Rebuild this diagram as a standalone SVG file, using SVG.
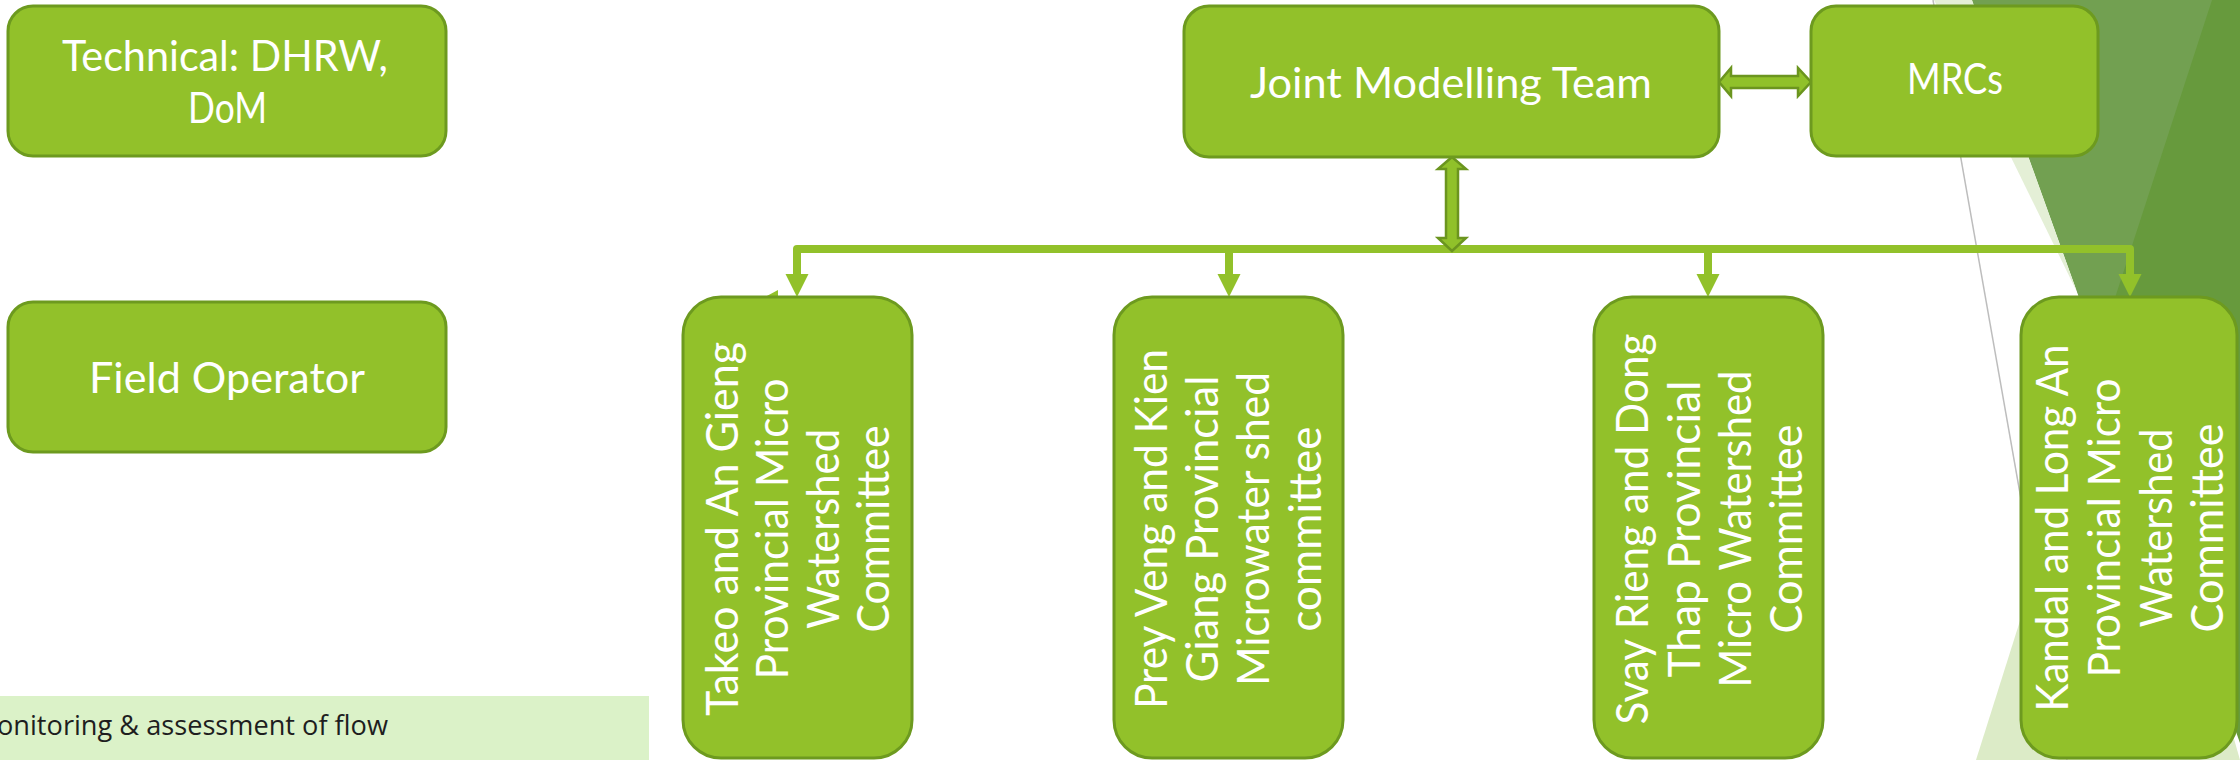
<svg xmlns="http://www.w3.org/2000/svg" width="2240" height="760" viewBox="0 0 2240 760">
  <defs>
    <style>
      .box { fill: #92c12a; stroke: #6d9a1f; stroke-width: 3; }
      .lbl { font-family: Lato, "Liberation Sans", sans-serif; fill: #ffffff; font-size: 42px; }
      .vl { font-size: 45px; text-anchor: middle; }
      .bus { fill: none; stroke: #92c12a; stroke-width: 8; stroke-linejoin: round; }
      .ah { fill: #92c12a; }
      .dbl { fill: #90c12a; stroke: #6b951f; stroke-width: 2.5; }
    </style>
    <!-- arrowhead pointing down, tip at (0,23) -->
    <path id="head" d="M-11.5,0 H11.5 L0,23 Z"/>
  </defs>

  <rect width="2240" height="760" fill="#ffffff"/>

  <!-- faceted backdrop on the right -->
  <g id="backdrop">
    <polygon points="1972,0 2240,0 2240,743" fill="#679a3d"/>
    <polygon points="1972,0 2212,0 2098,350" fill="#72a051"/>
    <polygon points="1934,0 1972,0 2077,292" fill="#e4efd6"/>
    <polygon points="1976,760 2115,320 2240,760" fill="#dcebc7"/>
    <line x1="1933" y1="0" x2="2067" y2="760" stroke="#bdbdbd" stroke-width="1.5"/>
  </g>

  <!-- caption strip -->
  <g id="note">
    <rect x="0" y="696" width="649" height="64" fill="#dbf2c8"/>
    <text x="-3" y="735" font-family="'Open Sans', 'Liberation Sans', sans-serif" font-size="27" fill="#1e1e1e" textLength="391" lengthAdjust="spacingAndGlyphs">onitoring &amp; assessment of flow</text>
  </g>

  <!-- connectors -->
  <g id="connectors">
    <path class="bus" d="M797,276 V249 H2130 V276"/>
    <path class="bus" d="M1229,249 V276 M1708,249 V276"/>
    <use href="#head" class="ah" transform="translate(797,274)"/>
    <use href="#head" class="ah" transform="translate(1229,274)"/>
    <use href="#head" class="ah" transform="translate(1708,274)"/>
    <use href="#head" class="ah" transform="translate(2130,274)"/>
    <polygon class="ah" points="765,297 778,290 778,297"/>
    <path class="dbl" d="M1719,82 L1731,68 V76 H1798 V68 L1811,82 L1798,96 V88 H1731 V96 Z"/>
    <path class="dbl" d="M1452,157 L1466,169 H1458 V238 H1466 L1452,251 L1438,238 H1446 V169 H1438 Z"/>
  </g>

  <g id="technical">
    <rect class="box" x="8" y="6" width="438" height="150" rx="25"/>
    <text class="lbl" x="62" y="71" textLength="326" lengthAdjust="spacingAndGlyphs">Technical: DHRW,</text>
    <text class="lbl" x="188" y="123" textLength="79" lengthAdjust="spacingAndGlyphs">DoM</text>
  </g>

  <g id="field-operator">
    <rect class="box" x="8" y="302" width="438" height="150" rx="25"/>
    <text class="lbl" x="89" y="393" textLength="276" lengthAdjust="spacingAndGlyphs">Field Operator</text>
  </g>

  <g id="joint-modelling-team">
    <rect class="box" x="1184" y="6" width="535" height="151" rx="25"/>
    <text class="lbl" x="1250" y="98" textLength="402" lengthAdjust="spacingAndGlyphs">Joint Modelling Team</text>
  </g>

  <g id="mrcs">
    <rect class="box" x="1811" y="6" width="287" height="150" rx="25"/>
    <text class="lbl" x="1907" y="94" textLength="96" lengthAdjust="spacingAndGlyphs">MRCs</text>
  </g>

  <g id="takeo-an-gieng">
    <rect class="box" x="683" y="297" width="229" height="461" rx="38"/>
    <text class="lbl vl" transform="translate(738,529) rotate(-90)" textLength="374" lengthAdjust="spacingAndGlyphs">Takeo and An Gieng</text>
    <text class="lbl vl" transform="translate(788,529) rotate(-90)" textLength="301" lengthAdjust="spacingAndGlyphs">Provincial Micro</text>
    <text class="lbl vl" transform="translate(839,529) rotate(-90)" textLength="200" lengthAdjust="spacingAndGlyphs">Watershed</text>
    <text class="lbl vl" transform="translate(889,529) rotate(-90)" textLength="207" lengthAdjust="spacingAndGlyphs">Committee</text>
  </g>

  <g id="prey-veng-kien-giang">
    <rect class="box" x="1114" y="297" width="229" height="461" rx="38"/>
    <text class="lbl vl" transform="translate(1167,529) rotate(-90)" textLength="360" lengthAdjust="spacingAndGlyphs">Prey Veng and Kien</text>
    <text class="lbl vl" transform="translate(1218,529) rotate(-90)" textLength="307" lengthAdjust="spacingAndGlyphs">Giang Provincial</text>
    <text class="lbl vl" transform="translate(1269,529) rotate(-90)" textLength="314" lengthAdjust="spacingAndGlyphs">Microwater shed</text>
    <text class="lbl vl" transform="translate(1321,529) rotate(-90)" textLength="205" lengthAdjust="spacingAndGlyphs">committee</text>
  </g>

  <g id="svay-rieng-dong-thap">
    <rect class="box" x="1594" y="297" width="229" height="461" rx="38"/>
    <text class="lbl vl" transform="translate(1648,529) rotate(-90)" textLength="391" lengthAdjust="spacingAndGlyphs">Svay Rieng and Dong</text>
    <text class="lbl vl" transform="translate(1700,529) rotate(-90)" textLength="297" lengthAdjust="spacingAndGlyphs">Thap Provincial</text>
    <text class="lbl vl" transform="translate(1751,529) rotate(-90)" textLength="317" lengthAdjust="spacingAndGlyphs">Micro Watershed</text>
    <text class="lbl vl" transform="translate(1802,529) rotate(-90)" textLength="209" lengthAdjust="spacingAndGlyphs">Committee</text>
  </g>

  <g id="kandal-long-an">
    <rect class="box" x="2021" y="297" width="216" height="461" rx="38"/>
    <text class="lbl vl" transform="translate(2068,528) rotate(-90)" font-size="42" textLength="367" lengthAdjust="spacingAndGlyphs">Kandal and Long An</text>
    <text class="lbl vl" transform="translate(2120,528) rotate(-90)" font-size="42" textLength="299" lengthAdjust="spacingAndGlyphs">Provincial Micro</text>
    <text class="lbl vl" transform="translate(2172,528) rotate(-90)" font-size="42" textLength="199" lengthAdjust="spacingAndGlyphs">Watershed</text>
    <text class="lbl vl" transform="translate(2223,528) rotate(-90)" font-size="42" textLength="209" lengthAdjust="spacingAndGlyphs">Committee</text>
  </g>
</svg>
